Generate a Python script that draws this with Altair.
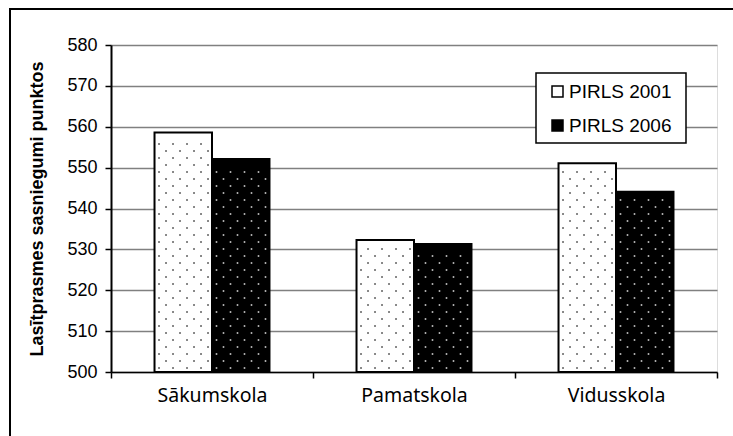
import altair as alt
import pandas as pd

categories = ["Sākumskola", "Pamatskola", "Vidusskola"]
series_names = ["PIRLS 2001", "PIRLS 2006"]
pirls_2001 = [558.6, 532.3, 551.1]
pirls_2006 = [552.1, 531.3, 544.1]
y_ticks = [500, 510, 520, 530, 540, 550, 560, 570, 580]
y_title = "Lasītprasmes sasniegumi punktos"

rows = []
for i, c in enumerate(categories):
    rows.append({"cat": c, "ci": i, "series": series_names[0], "si": 0, "value": pirls_2001[i]})
    rows.append({"cat": c, "ci": i, "series": series_names[1], "si": 1, "value": pirls_2006[i]})
df = pd.DataFrame(rows)

W, H = 606, 327
FONT = "Liberation Sans"
PX_PER_UNIT = H / 80.0
STEP = W / 3.0
PO = 0.757
SUB = STEP / (2 + 2 * PO)
LEFT = PO * SUB

bars = alt.Chart(df).mark_bar(stroke="black", strokeWidth=2).encode(
    x=alt.X("cat:N", sort=categories,
            scale=alt.Scale(paddingInner=0, paddingOuter=0),
            axis=alt.Axis(title=None, tickBand="extent", labelAngle=0,
                          domainColor="black", domainWidth=1.5,
                          tickColor="black", tickWidth=1.5, tickSize=6,
                          labelFont="Noto Sans", labelFontSize=19.5, labelColor="black",
                          labelPadding=8, grid=False)),
    xOffset=alt.XOffset("series:N", sort=series_names,
                        scale=alt.Scale(paddingInner=0, paddingOuter=PO)),
    y=alt.Y("value:Q",
            scale=alt.Scale(domain=[500, 580], nice=False, zero=False),
            axis=alt.Axis(title=y_title, values=y_ticks, format="d",
                          domainColor="black", domainWidth=2,
                          tickColor="black", tickWidth=1.5, tickSize=6,
                          labelFont=FONT, labelFontSize=18, labelColor="black",
                          labelPadding=8,
                          grid=True, gridColor="#808080", gridWidth=1.5,
                          titleFont=FONT, titleFontSize=18, titleFontWeight="bold",
                          titleColor="black", titleX=-74, titleY=H / 2,
                          titleAngle=-90, titleBaseline="middle", titleAlign="center")),
    y2=alt.datum(500),
    fill=alt.Fill("series:N", sort=series_names,
                  scale=alt.Scale(domain=series_names, range=["white", "black"]),
                  legend=alt.Legend(title=None, orient="none", legendX=437, legendY=37,
                                    padding=0, symbolType="square", symbolSize=121,
                                    symbolStrokeColor="black", symbolStrokeWidth=1.5,
                                    labelFont=FONT, labelFontSize=19, labelColor="black",
                                    labelOffset=2, rowPadding=14)),
)

# dotted fill texture for the bars (pattern rows of 7px, columns of 14px, staggered)
dots = alt.Chart(df).transform_calculate(
    krows=f"sequence(0, floor((datum.value - 500) * {PX_PER_UNIT} / 7 - 0.6))",
    kcols="sequence(0, 4)",
).transform_flatten(["krows"], as_=["k"]).transform_flatten(["kcols"], as_=["c"]).transform_calculate(
    px=f"datum.ci * {STEP} + {LEFT} + datum.si * {SUB} + (datum.k % 2 == 0 ? 4.5 : 11.5) + 14 * datum.c",
    py=f"500 + (datum.k * 7 + 4) / {PX_PER_UNIT}",
    dotc="datum.si == 0 ? '#3a3a3a' : '#d8d8d8'",
).mark_square(size=2.5, opacity=1).encode(
    x=alt.X("px:Q", scale=alt.Scale(domain=[0, W], nice=False, zero=False), axis=None),
    y=alt.Y("py:Q"),
    fill=alt.Fill("dotc:N", scale=None, legend=None),
)

one = alt.Data(values=[{"k": 1}])

legend_box = alt.Chart(one).mark_rect(fill="white", stroke="black", strokeWidth=1.5).encode(
    x=alt.value(425), x2=alt.value(575), y=alt.value(28), y2=alt.value(98)
)

frame = alt.Chart(one).mark_rect(fill=None, fillOpacity=0, stroke="black", strokeWidth=2).encode(
    x=alt.value(-101), x2=alt.value(W + 60), y=alt.value(-36), y2=alt.value(H + 90)
)

chart = alt.layer(bars, dots, legend_box, frame).resolve_scale(
    x="independent", fill="independent"
).properties(
    width=W, height=H,
    autosize=alt.AutoSizeParams(type="none"),
    padding={"left": 111, "top": 45, "right": 16, "bottom": 64},
).configure_view(stroke="#808080", strokeWidth=1.5).configure(background="white")

chart.save("out.html", embed_options={"renderer": "svg", "actions": False})
